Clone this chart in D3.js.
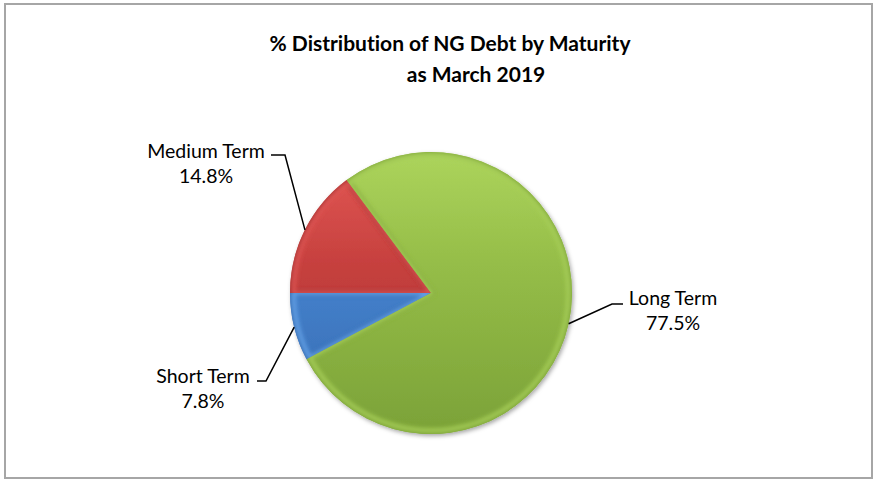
<!DOCTYPE html>
<html>
<head>
<meta charset="utf-8">
<script src="https://cdnjs.cloudflare.com/ajax/libs/d3/7.8.5/d3.min.js"></script>
<style>
  body { margin: 0; background: #fff; }
  text { font-family: Lato, "Noto Sans", sans-serif; fill: #000; font-variant-ligatures: none; }
</style>
</head>
<body>
<div id="chart"></div>
<script>
var categories = ["Short Term", "Medium Term", "Long Term"];
var values = [7.8, 14.8, 77.5];
var labels = ["7.8%", "14.8%", "77.5%"];
var titleLines = ["% Distribution of NG Debt by Maturity", "as March 2019"];

var w = 875, h = 481;
var cx = 431, cy = 293, r = 141;

// label layout: text centre, baseline, and the elbow of the leader line
var labelPos = [
  {x: 203, y: 383, elbow: [[257, 381], [266, 381]]},
  {x: 206, y: 158, elbow: [[271, 155], [285, 155]]},
  {x: 673, y: 305, elbow: [[623, 304], [612, 304]]}
];
var baseColor = ["#4683cf", "#c6403e", "#95bd48"];
var lightColor = ["#6aa8ee", "#e45a56", "#acd45c"];
var darkColor = ["#3569ad", "#a23231", "#7ba238"];

var svg = d3.select("#chart").append("svg").attr("width", w).attr("height", h);
var defs = svg.append("defs");

svg.append("rect").attr("x", 5).attr("y", 4).attr("width", 867).attr("height", 474)
  .attr("fill", "#fff").attr("stroke", "#a6a6a6").attr("stroke-width", 2);

svg.selectAll("text.title").data(titleLines).enter().append("text")
  .attr("class", "title")
  .attr("x", function(d, i){ return i === 0 ? 450 : 476; })
  .attr("y", function(d, i){ return 51 + i * 31; })
  .attr("text-anchor", "middle")
  .attr("font-size", "21px").attr("font-weight", "bold")
  .text(function(d){ return d; });

var shadow = defs.append("filter").attr("id", "shadow")
  .attr("x", "-10%").attr("y", "-10%").attr("width", "130%").attr("height", "130%");
shadow.append("feDropShadow").attr("dx", 1.5).attr("dy", 2).attr("stdDeviation", 2)
  .attr("flood-color", "#000").attr("flood-opacity", 0.35);
var blur = defs.append("filter").attr("id", "blur");
blur.append("feGaussianBlur").attr("stdDeviation", 2);

// Excel turns the first slice so that short / medium meet at 9 o'clock
var startA = (270 - values[0] / d3.sum(values) * 360) * Math.PI / 180;
var pie = d3.pie().sort(null).startAngle(startA).endAngle(startA + 2 * Math.PI);
var arcs = pie(values);
var arc = d3.arc().innerRadius(0).outerRadius(r);

arcs.forEach(function(d, i){
  var g = defs.append("linearGradient").attr("id", "grad" + i)
    .attr("gradientUnits", "userSpaceOnUse")
    .attr("x1", 0).attr("y1", -r).attr("x2", 0).attr("y2", r);
  g.append("stop").attr("offset", "0%").attr("stop-color", lightColor[i]);
  g.append("stop").attr("offset", "40%").attr("stop-color", baseColor[i]);
  g.append("stop").attr("offset", "100%").attr("stop-color", darkColor[i]);
  defs.append("clipPath").attr("id", "clip" + i).append("path").attr("d", arc(d));
});

var pg = svg.append("g").attr("transform", "translate(" + cx + "," + cy + ")");
pg.append("g").attr("filter", "url(#shadow)")
  .selectAll("path").data(arcs).enter().append("path")
  .attr("d", arc).attr("fill", function(d, i){ return "url(#grad" + i + ")"; });

// soft bevel along slice edges
var bev = pg.selectAll("g.bevel").data(arcs).enter().append("g")
  .attr("class", "bevel")
  .attr("clip-path", function(d, i){ return "url(#clip" + i + ")"; });
bev.append("path").attr("d", arc).attr("fill", "none")
  .attr("stroke", function(d, i){ return darkColor[i]; })
  .attr("stroke-width", 6).attr("stroke-opacity", 0.9).attr("filter", "url(#blur)");
bev.append("path").attr("d", d3.arc().innerRadius(0).outerRadius(r - 3.5))
  .attr("fill", "none")
  .attr("stroke", function(d, i){ return lightColor[i]; })
  .attr("stroke-width", 4).attr("stroke-opacity", 0.9).attr("filter", "url(#blur)");

// leader lines and labels
svg.selectAll("path.leader").data(arcs).enter().append("path")
  .attr("class", "leader")
  .attr("d", function(d, i){
    var a = (d.startAngle + d.endAngle) / 2;
    var px = cx + r * Math.sin(a), py = cy - r * Math.cos(a);
    var e = labelPos[i].elbow;
    return "M" + e[0][0] + "," + e[0][1] + "L" + e[1][0] + "," + e[1][1] + "L" + px + "," + py;
  })
  .attr("fill", "none").attr("stroke", "#000").attr("stroke-width", 1.5);

var lab = svg.selectAll("g.lab").data(arcs).enter().append("g").attr("class", "lab");
lab.append("text")
  .attr("x", function(d, i){ return labelPos[i].x; })
  .attr("y", function(d, i){ return labelPos[i].y; })
  .attr("text-anchor", "middle").attr("font-size", "19.5px")
  .text(function(d, i){ return categories[i]; });
lab.append("text")
  .attr("x", function(d, i){ return labelPos[i].x; })
  .attr("y", function(d, i){ return labelPos[i].y + 25; })
  .attr("text-anchor", "middle").attr("font-size", "19.5px")
  .text(function(d, i){ return labels[i]; });
</script>
</body>
</html>
